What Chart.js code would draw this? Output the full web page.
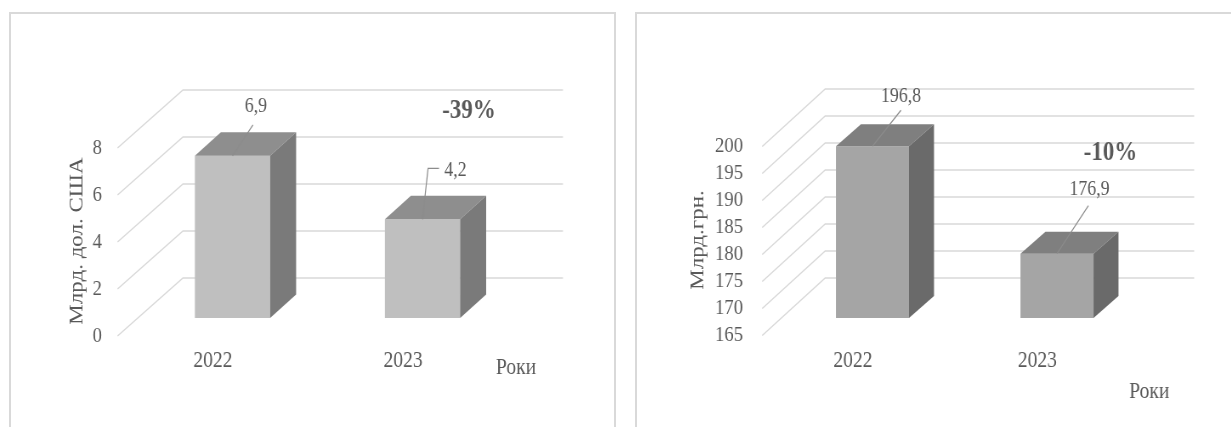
<!DOCTYPE html>
<html>
<head>
<meta charset="utf-8">
<script src="https://cdn.jsdelivr.net/npm/chart.js@4/dist/chart.umd.min.js"></script>
<style>
  html, body { margin: 0; padding: 0; background: #ffffff; overflow: hidden; }
  body { width: 1231px; height: 427px; position: relative; }
  .panel { position: absolute; border: 2px solid #d9d9d9; overflow: hidden; background: #fff; }
  .wrap { position: absolute; left: 0; top: 0; transform: scaleX(0.85); transform-origin: 0 0; }
</style>
</head>
<body>
<div class="panel" style="left:9px;top:12px;width:603px;height:440px;">
  <div class="wrap" style="width:709px;height:413px;"><canvas id="c1"></canvas></div>
</div>
<div class="panel" style="left:635px;top:12px;width:700px;height:440px;">
  <div class="wrap" style="width:700px;height:413px;"><canvas id="c2"></canvas></div>
</div>
<script>
// ---- data ----
const categories = ['2022', '2023'];
const usdValues = [6.9, 4.2];
const uahValues = [196.8, 176.9];
const usdTickLabels = [0, 2, 4, 6, 8];
const uahTickLabels = [165, 170, 175, 180, 185, 190, 195, 200];
const usdAxisTitle = 'Млрд. дол. США';
const uahAxisTitle = 'Млрд.грн.';
const xAxisTitle = 'Роки';

const TEXT = '#595959';
const FONT = "'Liberation Serif', 'Times New Roman', serif";
Chart.defaults.font.family = FONT;
Chart.defaults.color = TEXT;

function fmt(v) { return v.toFixed(1).replace('.', ','); }

const bar3d = {
  id: 'bar3d',
  beforeDatasetsDraw(chart, args, o) {
    const { ctx, chartArea: a, scales: { y } } = chart;
    ctx.save();
    ctx.strokeStyle = o.gridColor;
    ctx.lineWidth = 1.5;
    y.ticks.forEach(t => {
      const py = y.getPixelForValue(t.value);
      ctx.beginPath();
      ctx.moveTo(a.left + o.frontOff[0], py + o.frontOff[1]);
      ctx.lineTo(a.left + o.backOff[0], py + o.backOff[1]);
      ctx.lineTo(a.right + o.backOff[0], py + o.backOff[1]);
      ctx.stroke();
    });
    ctx.restore();
  },
  afterDatasetsDraw(chart, args, o) {
    const { ctx, chartArea: a } = chart;
    const meta = chart.getDatasetMeta(0);
    const vals = chart.data.datasets[0].data;
    const dx = o.depth[0], dy = o.depth[1];
    ctx.save();
    const pts = [];
    meta.data.forEach((bar, i) => {
      const p = bar.getProps(['x', 'y', 'base', 'width'], true);
      const x = p.x, y = p.y, width = p.width;
      const base = Math.min(p.base, a.bottom);
      pts.push({ x, y });
      const l = x - width / 2, r = x + width / 2;
      ctx.fillStyle = o.topColor;
      ctx.beginPath();
      ctx.moveTo(l, y); ctx.lineTo(l + dx, y + dy); ctx.lineTo(r + dx, y + dy); ctx.lineTo(r, y);
      ctx.closePath(); ctx.fill();
      ctx.fillStyle = o.sideColor;
      ctx.beginPath();
      ctx.moveTo(r, y); ctx.lineTo(r + dx, y + dy); ctx.lineTo(r + dx, base + dy); ctx.lineTo(r, base);
      ctx.closePath(); ctx.fill();
      // leader line + value label
      const lab = o.labels[i];
      ctx.strokeStyle = o.leaderColor;
      ctx.lineWidth = 1.2;
      ctx.beginPath();
      ctx.moveTo(x, y);
      lab.path.forEach(q => ctx.lineTo(x + q[0], y + q[1]));
      ctx.stroke();
      ctx.fillStyle = TEXT;
      ctx.font = '21px ' + FONT;
      ctx.textAlign = 'center';
      ctx.textBaseline = 'middle';
      ctx.fillText(fmt(vals[i]), x + lab.text[0], y + lab.text[1]);
    });
    // change annotation
    const change = Math.round((vals[1] - vals[0]) / vals[0] * 100);
    ctx.font = 'bold 27px ' + FONT;
    ctx.fillStyle = TEXT;
    ctx.textAlign = 'center';
    ctx.textBaseline = 'middle';
    ctx.fillText(change + '%', pts[1].x + o.pct[0], o.pct[1]);
    // x axis title
    ctx.font = '23px ' + FONT;
    ctx.fillText(o.xTitle, a.right + o.xTitlePos[0], o.xTitlePos[1]);
    // y axis title
    ctx.save();
    ctx.translate(o.yTitlePos[0], o.yTitlePos[1]);
    ctx.rotate(-Math.PI / 2);
    ctx.fillText(o.yTitle, 0, 0);
    ctx.restore();
    ctx.restore();
  }
};

function makeChart(id, values, tickLabels, cfg) {
  return new Chart(document.getElementById(id), {
    type: 'bar',
    data: {
      labels: categories,
      datasets: [{
        data: values,
        base: tickLabels[0],
        backgroundColor: cfg.front,
        borderWidth: 0,
        barPercentage: 0.396,
        categoryPercentage: 1
      }]
    },
    options: {
      responsive: true,
      maintainAspectRatio: false,
      animation: false,
      devicePixelRatio: 1,
      layout: { padding: { top: cfg.top, right: cfg.right, bottom: 0, left: 0 } },
      plugins: {
        legend: { display: false },
        tooltip: { enabled: false },
        bar3d: cfg.d3
      },
      scales: {
        x: {
          offset: true,
          grid: { display: false, drawTicks: false },
          border: { display: false },
          ticks: { padding: cfg.xPad, labelOffset: cfg.xLabelOffset, maxRotation: 0, autoSkip: false, font: { size: 23 }, color: TEXT },
          afterFit: s => { s.height = cfg.xH; }
        },
        y: {
          min: tickLabels[0],
          max: tickLabels[tickLabels.length - 1],
          grid: { display: false, drawTicks: false },
          border: { display: false },
          ticks: { padding: cfg.yPad, labelOffset: cfg.d3.frontOff[1], autoSkip: false, font: { size: 22 }, color: TEXT },
          afterBuildTicks: s => { s.ticks = tickLabels.map(v => ({ value: v })); },
          afterFit: s => { s.width = cfg.yW; }
        }
      }
    },
    plugins: [bar3d]
  });
}

makeChart('c1', usdValues, usdTickLabels, {
  front: '#BFBFBF',
  top: 116, right: 113.1, xH: 109, yW: 148.8,
  xPad: 29, xLabelOffset: -23, yPad: 41.8,
  d3: {
    gridColor: '#d9d9d9',
    frontOff: [-23.5, 18], backOff: [53.5, -40],
    depth: [30.6, -23.5],
    topColor: '#8E8E8E', sideColor: '#7A7A7A', leaderColor: '#8c8c8c',
    labels: [
      { path: [[24.1, -31]], text: [27.6, -49] },
      { path: [[6.5, -51], [19.4, -51]], text: [38.8, -49] }
    ],
    pct: [54.7, 97],
    xTitle: xAxisTitle, xTitlePos: [-1.8, 354],
    yTitle: usdAxisTitle, yTitlePos: [77.6, 227]
  }
});

makeChart('c2', uahValues, uahTickLabels, {
  front: '#A5A5A5',
  top: 115, right: 97.4, xH: 109, yW: 168.5,
  xPad: 29, xLabelOffset: -23, yPad: 43.8,
  d3: {
    gridColor: '#d9d9d9',
    frontOff: [-21.2, 17.5], backOff: [52.9, -40],
    depth: [29.4, -22],
    topColor: '#7F7F7F', sideColor: '#6A6A6A', leaderColor: '#8c8c8c',
    labels: [
      { path: [[33.5, -36]], text: [33.5, -50] },
      { path: [[37, -48]], text: [38.2, -64] }
    ],
    pct: [63, 139],
    xTitle: xAxisTitle, xTitlePos: [0, 378],
    yTitle: uahAxisTitle, yTitlePos: [71.8, 226]
  }
});
</script>
</body>
</html>
